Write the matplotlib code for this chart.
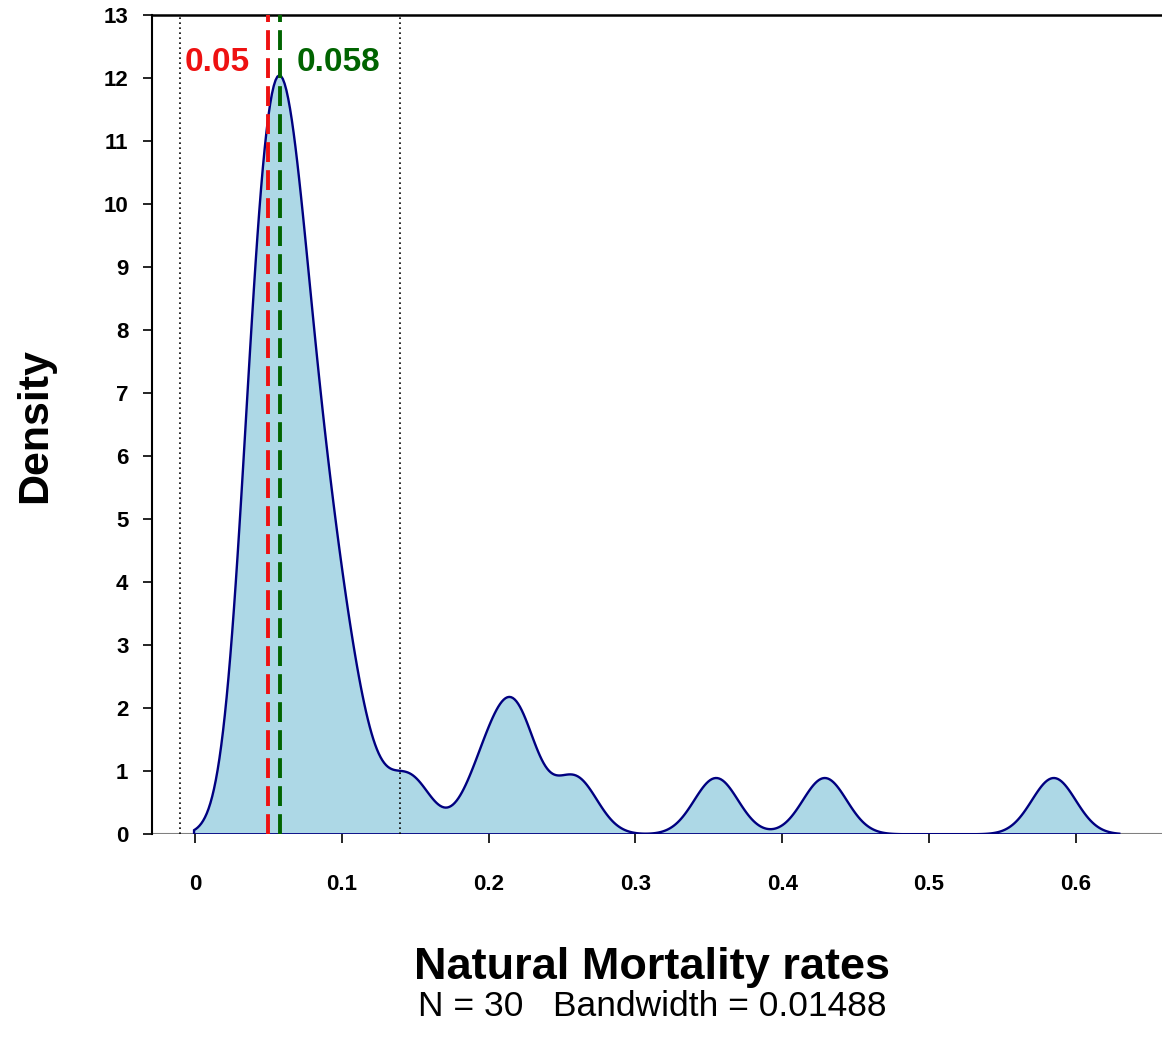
import numpy as np
import matplotlib
matplotlib.use("Agg")
import matplotlib.pyplot as plt

plt.rcParams['font.family'] = ['Liberation Sans', 'DejaVu Sans']

# natural mortality estimates (N = 30)
mortality = [0.044, 0.045, 0.045, 0.045, 0.045, 0.045, 0.045, 0.046,
             0.063, 0.064, 0.064, 0.065, 0.065, 0.065, 0.065, 0.066,
             0.079, 0.087, 0.088, 0.089, 0.100, 0.112,
             0.146, 0.197, 0.218, 0.219, 0.259,
             0.355, 0.429, 0.585]
bandwidth = 0.01488
ref_value = 0.05       # red dashed line
mode_value = 0.058     # green dashed line
interval = [-0.0102, 0.1396]   # dotted lines

x_ticks = [0, 0.1, 0.2, 0.3, 0.4, 0.5, 0.6]
x_tick_labels = ['0', '0.1', '0.2', '0.3', '0.4', '0.5', '0.6']
y_ticks = list(range(0, 14))

# gaussian kernel density, same grid rule as R's density() (cut = 3)
data = np.array(mortality)
n = len(data)
xs = np.linspace(data.min() - 3 * bandwidth, data.max() + 3 * bandwidth, 512)
dens = np.exp(-0.5 * ((xs[:, None] - data[None, :]) / bandwidth) ** 2).sum(1)
dens = dens / (n * bandwidth * np.sqrt(2 * np.pi))

fig = plt.figure(figsize=(11.62, 10.40), dpi=100)
ax = fig.add_axes([0.1308, 0.1978, 0.8692, 0.7873])

ax.axhline(0, color='gray', lw=1.5, zorder=1)
ax.fill(np.r_[xs, xs[-1], xs[0]], np.r_[dens, 0, 0],
        facecolor='lightblue', edgecolor='#000080', lw=1.7, zorder=2)

for xv in interval:
    ax.axvline(xv, color='black', lw=1.2, linestyle=(0, (1, 2)), zorder=3)

ax.axvline(ref_value, color='#EE1111', lw=2.8, linestyle=(0, (5.1, 2.1)),
           dash_capstyle='butt', zorder=4)
ax.axvline(mode_value, color='#006400', lw=2.8, linestyle=(0, (5.1, 2.1)),
           dash_capstyle='butt', zorder=4)

ax.text(0.0375, 12.25, '0.05', color='#EE1111', fontsize=24, fontweight='bold',
        ha='right', va='center')
ax.text(0.0693, 12.25, '0.058', color='#006400', fontsize=24, fontweight='bold',
        ha='left', va='center')

ax.set_xlim(-0.0293, 0.6587)
ax.set_ylim(0, 13)

ax.spines['right'].set_visible(False)
ax.spines['bottom'].set_visible(False)
ax.spines['left'].set_linewidth(1.5)
ax.spines['top'].set_linewidth(1.8)

ax.set_xticks(x_ticks)
ax.set_xticklabels(x_tick_labels)
ax.set_yticks(y_ticks)
ax.tick_params(axis='both', direction='out', length=6.5, width=1.2, labelsize=16)
ax.tick_params(axis='x', pad=22)
ax.tick_params(axis='y', pad=10.5)
for lab in ax.get_xticklabels() + ax.get_yticklabels():
    lab.set_fontweight('bold')

fig.text(35 / 1162, 1 - 426 / 1040, 'Density', rotation=90, fontsize=31,
         fontweight='bold', ha='center', va='center')
fig.text(652 / 1162, 1 - 968 / 1040, 'Natural Mortality rates', fontsize=32.5,
         fontweight='bold', ha='center', va='center')
fig.text(652 / 1162, 1 - 1007 / 1040, 'N = 30   Bandwidth = 0.01488', fontsize=25.5,
         ha='center', va='center')

plt.savefig('out.png')
